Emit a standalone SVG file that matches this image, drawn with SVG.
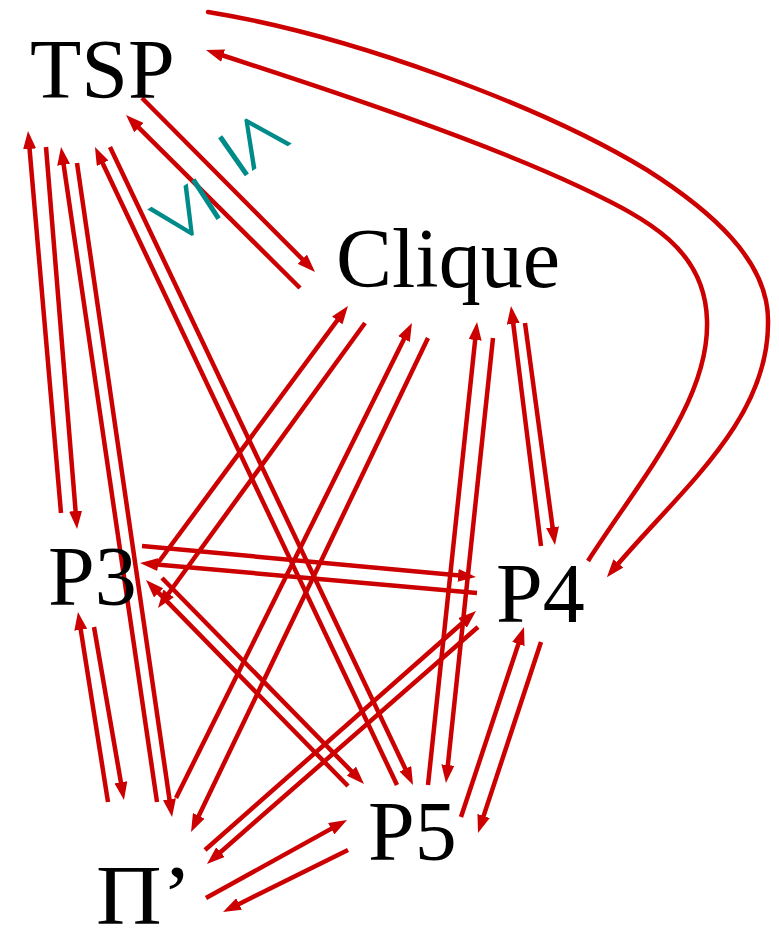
<svg xmlns="http://www.w3.org/2000/svg" width="779" height="931" viewBox="0 0 779 931">
<defs>
<style>
.node{font-family:"Liberation Serif","Times New Roman",serif;font-size:84px;fill:#000}
.conn{fill:none;stroke:#cc0000;stroke-width:4.5}
.arr{marker-end:url(#ah)}
.rel{font-family:"Liberation Serif","Times New Roman",serif;font-size:100px;fill:#008b8b}
</style>
<marker id="ah" viewBox="0 0 18 13" refX="10" refY="6.5" markerWidth="18" markerHeight="13" markerUnits="userSpaceOnUse" orient="auto">
<path d="M0,0 L18,6.5 L0,13 z" fill="#cc0000"/>
</marker>
</defs>
<rect width="779" height="931" fill="#fff"/>
<g id="connectors">
<!-- TSP <-> P3 -->
<line class="conn arr" x1="61" y1="513" x2="28.7" y2="139"/>
<line class="conn arr" x1="46" y1="147" x2="76.4" y2="521"/>
<!-- TSP <-> Pi' -->
<line class="conn arr" x1="157" y1="802" x2="62.2" y2="154.9"/>
<line class="conn arr" x1="77" y1="163" x2="170.9" y2="809.1"/>
<!-- TSP <-> P5 -->
<line class="conn arr" x1="397" y1="785" x2="98.4" y2="154.2"/>
<line class="conn arr" x1="110" y1="147" x2="409.6" y2="777.8"/>
<!-- TSP <-> Clique -->
<line class="conn arr" x1="142" y1="98" x2="309.4" y2="266.3"/>
<line class="conn arr" x1="300" y1="288" x2="131.7" y2="120.6"/>
<!-- TSP <-> P4 curves -->
<path class="conn arr" stroke-linecap="round" d="M208,12 C350,35 540,105 647,170 C710,210 768,260 768,320 C770,420 680,490 612,571"/>
<path class="conn arr" d="M588,561 C640,480 710,400 707,320 C705,250 650,220 580,187 C480,140 330,90 213.6,52.5"/>
<!-- P3 <-> P4 -->
<line class="conn arr" x1="142" y1="546" x2="468" y2="576.3"/>
<line class="conn arr" x1="477" y1="593" x2="148" y2="563.7"/>
<!-- P3 <-> Clique -->
<line class="conn arr" x1="155" y1="567" x2="343.2" y2="312.4"/>
<line class="conn arr" x1="365" y1="323" x2="162.7" y2="601.5"/>
<!-- P3 <-> P5 -->
<line class="conn arr" x1="348" y1="786" x2="151.6" y2="585.7"/>
<line class="conn arr" x1="162" y1="578" x2="358.4" y2="778.3"/>
<!-- P3 <-> Pi' -->
<line class="conn arr" x1="108" y1="802" x2="79.2" y2="619.9"/>
<line class="conn arr" x1="94" y1="627" x2="122.6" y2="792.1"/>
<!-- Pi' <-> Clique -->
<line class="conn arr" x1="176" y1="798" x2="408.4" y2="330.2"/>
<line class="conn arr" x1="428" y1="338" x2="194.5" y2="824.8"/>
<!-- Pi' <-> P4 -->
<line class="conn arr" x1="205" y1="850" x2="470" y2="616.3"/>
<line class="conn arr" x1="478" y1="627" x2="213" y2="858.7"/>
<!-- Pi' <-> P5 -->
<line class="conn arr" x1="206" y1="898" x2="340" y2="823.9"/>
<line class="conn arr" x1="348" y1="850" x2="230.2" y2="908.4"/>
<!-- P4 <-> P5 -->
<line class="conn arr" x1="461" y1="817" x2="521.5" y2="634.6"/>
<line class="conn arr" x1="541" y1="642" x2="480.5" y2="825.4"/>
<!-- Clique <-> P5 -->
<line class="conn arr" x1="428" y1="785" x2="476.2" y2="330"/>
<line class="conn arr" x1="493" y1="338" x2="446.8" y2="775"/>
<!-- Clique <-> P4 -->
<line class="conn arr" x1="541" y1="546" x2="512" y2="313.9"/>
<line class="conn arr" x1="525" y1="323" x2="553.9" y2="537.1"/>
</g>
<g id="relations">
<text class="rel" text-anchor="middle" dominant-baseline="central" transform="translate(259,138) rotate(55)">≤</text>
<text class="rel" text-anchor="middle" dominant-baseline="central" transform="translate(180,216) rotate(-123)">≤</text>
</g>
<g id="tsp"><text class="node" x="30" y="98">TSP</text></g>
<g id="clique"><text class="node" x="336" y="287">Clique</text></g>
<g id="p3"><text class="node" x="48" y="605">P3</text></g>
<g id="p4"><text class="node" x="496" y="622">P4</text></g>
<g id="p5"><text class="node" x="368" y="860">P5</text></g>
<g id="pi"><text class="node" x="96" y="924" font-size="110" textLength="96" lengthAdjust="spacingAndGlyphs">Π’</text></g>
</svg>
